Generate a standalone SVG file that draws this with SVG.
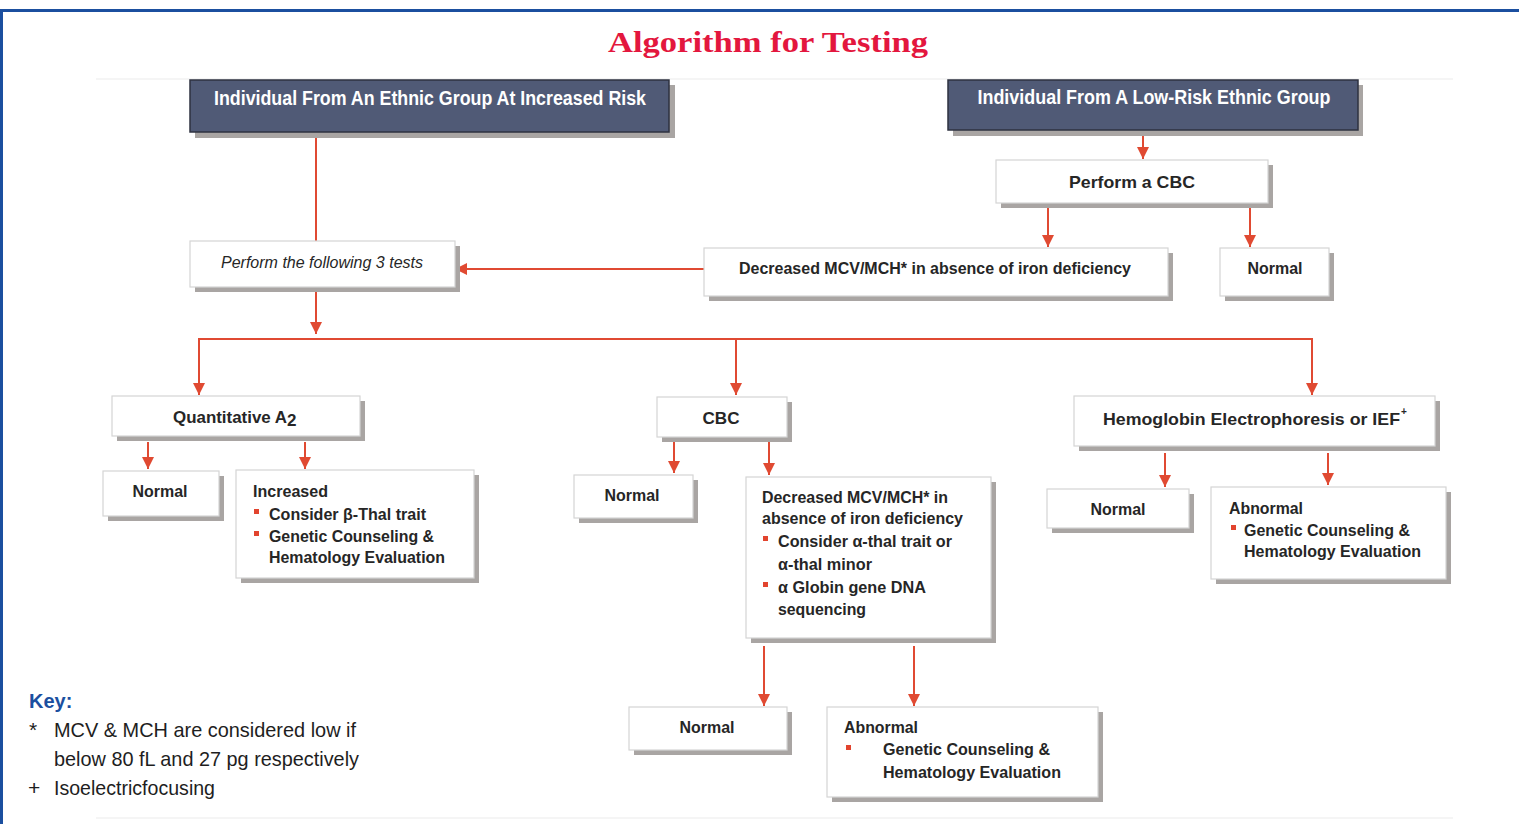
<svg xmlns="http://www.w3.org/2000/svg" width="1519" height="824" viewBox="0 0 1519 824">
<defs>
<style>
.frame{stroke:#1b4f9f;stroke-width:3;fill:none}
.rule{stroke:#ececec;stroke-width:1.2}
.title{font-family:"Liberation Serif","DejaVu Serif",serif;font-weight:bold;font-size:30px;fill:#e3173e}
.shadow{fill:#a9a5a3}
.box{fill:#ffffff;stroke:#d4d4d4;stroke-width:1.2}
.dark{fill:#505a76;stroke:#2e3240;stroke-width:1.5}
.t{font-family:"Liberation Sans","Arial",sans-serif;font-weight:bold;font-size:17px;fill:#262626}
.sup{font-family:"Liberation Sans","Arial",sans-serif;font-weight:bold;font-size:10px;fill:#262626}
.tw{font-family:"Liberation Sans","Arial",sans-serif;font-weight:bold;font-size:20px;fill:#ffffff}
.ti{font-family:"Liberation Sans","Arial",sans-serif;font-style:italic;font-size:16px;fill:#262626}
.c{text-anchor:middle}
.bul{fill:#e2442e}
.con{stroke:#e04a32;stroke-width:2;fill:none}
.key{font-family:"Liberation Sans","Arial",sans-serif;font-size:21px;fill:#1e1e1e}
.keyh{font-family:"Liberation Sans","Arial",sans-serif;font-weight:bold;font-size:20px;fill:#1b4f9f}
</style>
<marker id="ah" viewBox="0 0 12 12" refX="12" refY="6" markerWidth="12" markerHeight="12" markerUnits="userSpaceOnUse" orient="auto">
<path d="M0,0 L12,6 L0,12 z" fill="#e04a32"/>
</marker>
</defs>
<rect width="1519" height="824" fill="#ffffff"/>
<path class="frame" d="M1.5,824 V10.5 H1519"/>
<line class="rule" x1="96" y1="79" x2="1453" y2="79"/>
<line class="rule" x1="96" y1="818" x2="1453" y2="818"/>
<text class="title c" x="768" y="52" textLength="320" lengthAdjust="spacingAndGlyphs">Algorithm for Testing</text>

<g id="connectors">
<line class="con" x1="316" y1="135" x2="316" y2="241"/>
<line class="con" x1="316" y1="291" x2="316" y2="334" marker-end="url(#ah)"/>
<polyline class="con" points="199,395 199,339 1312,339 1312,395" marker-end="url(#ah)"/>
<line class="con" x1="199" y1="340" x2="199" y2="395" marker-end="url(#ah)"/>
<line class="con" x1="736" y1="339" x2="736" y2="395" marker-end="url(#ah)"/>
<line class="con" x1="1143" y1="134" x2="1143" y2="159" marker-end="url(#ah)"/>
<line class="con" x1="1048" y1="206" x2="1048" y2="247" marker-end="url(#ah)"/>
<line class="con" x1="1250" y1="206" x2="1250" y2="247" marker-end="url(#ah)"/>
<line class="con" x1="704" y1="269" x2="455" y2="269" marker-end="url(#ah)"/>
<line class="con" x1="148" y1="442" x2="148" y2="469" marker-end="url(#ah)"/>
<line class="con" x1="305" y1="442" x2="305" y2="469" marker-end="url(#ah)"/>
<line class="con" x1="674" y1="442" x2="674" y2="473" marker-end="url(#ah)"/>
<line class="con" x1="769" y1="442" x2="769" y2="475" marker-end="url(#ah)"/>
<line class="con" x1="764" y1="646" x2="764" y2="706" marker-end="url(#ah)"/>
<line class="con" x1="914" y1="646" x2="914" y2="706" marker-end="url(#ah)"/>
<line class="con" x1="1165" y1="453" x2="1165" y2="487" marker-end="url(#ah)"/>
<line class="con" x1="1328" y1="453" x2="1328" y2="485" marker-end="url(#ah)"/>
</g>

<g id="n-increased-risk">
<rect class="shadow" x="195" y="85" width="480" height="53"/>
<rect class="dark" x="190" y="80" width="479" height="52"/>
<text class="tw c" x="430" y="105" textLength="432" lengthAdjust="spacingAndGlyphs">Individual From An Ethnic Group At Increased Risk</text>
</g>
<g id="n-low-risk">
<rect class="shadow" x="953" y="85" width="410" height="51"/>
<rect class="dark" x="948" y="80" width="410" height="50"/>
<text class="tw c" x="1154" y="104" textLength="353" lengthAdjust="spacingAndGlyphs">Individual From A Low-Risk Ethnic Group</text>
</g>
<g id="n-perform-cbc">
<rect class="shadow" x="1001" y="165" width="272" height="43"/>
<rect class="box" x="996" y="160" width="272" height="43"/>
<text class="t c" x="1132" y="188" font-size="19" textLength="126" lengthAdjust="spacingAndGlyphs">Perform a CBC</text>
</g>
<g id="n-perform-3">
<rect class="shadow" x="195" y="246" width="265" height="46"/>
<rect class="box" x="190" y="241" width="265" height="46"/>
<text class="ti c" x="322" y="268" textLength="202" lengthAdjust="spacingAndGlyphs">Perform the following 3 tests</text>
</g>
<g id="n-decreased-top">
<rect class="shadow" x="709" y="253" width="464" height="48"/>
<rect class="box" x="704" y="248" width="464" height="48"/>
<text class="t" x="739" y="274" textLength="392" lengthAdjust="spacingAndGlyphs">Decreased MCV/MCH* in absence of iron deficiency</text>
</g>
<g id="n-normal-top">
<rect class="shadow" x="1225" y="253" width="109" height="48"/>
<rect class="box" x="1220" y="248" width="109" height="48"/>
<text class="t c" x="1275" y="274" textLength="55" lengthAdjust="spacingAndGlyphs">Normal</text>
</g>
<g id="n-quant">
<rect class="shadow" x="117" y="401" width="248" height="40"/>
<rect class="box" x="112" y="396" width="248" height="40"/>
<text class="t" x="173" y="423" font-size="19" textLength="114" lengthAdjust="spacingAndGlyphs">Quantitative A</text>
<text class="t" x="287" y="426" font-size="10">2</text>
</g>
<g id="n-cbc">
<rect class="shadow" x="662" y="402" width="130" height="40"/>
<rect class="box" x="657" y="397" width="130" height="40"/>
<text class="t c" x="721" y="424" font-size="19" textLength="37" lengthAdjust="spacingAndGlyphs">CBC</text>
</g>
<g id="n-hemo">
<rect class="shadow" x="1079" y="401" width="361" height="50"/>
<rect class="box" x="1074" y="396" width="361" height="50"/>
<text class="t" x="1103" y="425" font-size="19" textLength="297" lengthAdjust="spacingAndGlyphs">Hemoglobin Electrophoresis or IEF</text>
<text class="sup" x="1401" y="415">+</text>
</g>
<g id="n-normal-a2">
<rect class="shadow" x="108" y="476" width="116" height="45"/>
<rect class="box" x="103" y="471" width="116" height="45"/>
<text class="t c" x="160" y="497" textLength="55" lengthAdjust="spacingAndGlyphs">Normal</text>
</g>
<g id="n-increased">
<rect class="shadow" x="241" y="475" width="238" height="108"/>
<rect class="box" x="236" y="470" width="238" height="108"/>
<text class="t" x="253" y="497" textLength="75" lengthAdjust="spacingAndGlyphs">Increased</text>
<rect class="bul" x="254" y="509" width="5" height="5"/>
<text class="t" x="269" y="520" textLength="157" lengthAdjust="spacingAndGlyphs">Consider β-Thal trait</text>
<rect class="bul" x="254" y="531" width="5" height="5"/>
<text class="t" x="269" y="542" textLength="165" lengthAdjust="spacingAndGlyphs">Genetic Counseling &amp;</text>
<text class="t" x="269" y="563" textLength="176" lengthAdjust="spacingAndGlyphs">Hematology Evaluation</text>
</g>
<g id="n-normal-cbc">
<rect class="shadow" x="579" y="480" width="119" height="43"/>
<rect class="box" x="574" y="475" width="119" height="43"/>
<text class="t c" x="632" y="501" textLength="55" lengthAdjust="spacingAndGlyphs">Normal</text>
</g>
<g id="n-decreased-cbc">
<rect class="shadow" x="751" y="482" width="245" height="161"/>
<rect class="box" x="746" y="477" width="245" height="161"/>
<text class="t" x="762" y="503" textLength="186" lengthAdjust="spacingAndGlyphs">Decreased MCV/MCH* in</text>
<text class="t" x="762" y="524" textLength="201" lengthAdjust="spacingAndGlyphs">absence of iron deficiency</text>
<rect class="bul" x="763" y="536" width="5" height="5"/>
<text class="t" x="778" y="547" textLength="174" lengthAdjust="spacingAndGlyphs">Consider α-thal trait or</text>
<text class="t" x="778" y="570" textLength="94" lengthAdjust="spacingAndGlyphs">α-thal minor</text>
<rect class="bul" x="763" y="582" width="5" height="5"/>
<text class="t" x="778" y="593" textLength="148" lengthAdjust="spacingAndGlyphs">α Globin gene DNA</text>
<text class="t" x="778" y="615" textLength="88" lengthAdjust="spacingAndGlyphs">sequencing</text>
</g>
<g id="n-normal-bottom">
<rect class="shadow" x="634" y="712" width="158" height="43"/>
<rect class="box" x="629" y="707" width="158" height="43"/>
<text class="t c" x="707" y="733" textLength="55" lengthAdjust="spacingAndGlyphs">Normal</text>
</g>
<g id="n-abnormal-bottom">
<rect class="shadow" x="832" y="712" width="271" height="90"/>
<rect class="box" x="827" y="707" width="271" height="90"/>
<text class="t" x="844" y="733" textLength="74" lengthAdjust="spacingAndGlyphs">Abnormal</text>
<rect class="bul" x="846" y="745" width="5" height="5"/>
<text class="t" x="883" y="755" textLength="167" lengthAdjust="spacingAndGlyphs">Genetic Counseling &amp;</text>
<text class="t" x="883" y="778" textLength="178" lengthAdjust="spacingAndGlyphs">Hematology Evaluation</text>
</g>
<g id="n-normal-hemo">
<rect class="shadow" x="1052" y="494" width="142" height="39"/>
<rect class="box" x="1047" y="489" width="142" height="39"/>
<text class="t c" x="1118" y="515" textLength="55" lengthAdjust="spacingAndGlyphs">Normal</text>
</g>
<g id="n-abnormal-hemo">
<rect class="shadow" x="1216" y="492" width="235" height="92"/>
<rect class="box" x="1211" y="487" width="235" height="92"/>
<text class="t" x="1229" y="514" textLength="74" lengthAdjust="spacingAndGlyphs">Abnormal</text>
<rect class="bul" x="1231" y="525" width="5" height="5"/>
<text class="t" x="1244" y="536" textLength="166" lengthAdjust="spacingAndGlyphs">Genetic Counseling &amp;</text>
<text class="t" x="1244" y="557" textLength="177" lengthAdjust="spacingAndGlyphs">Hematology Evaluation</text>
</g>

<g id="key">
<text class="keyh" x="29" y="708">Key:</text>
<text class="key" x="29" y="737">*</text>
<text class="key" x="54" y="737" textLength="302" lengthAdjust="spacingAndGlyphs">MCV &amp; MCH are considered low if</text>
<text class="key" x="54" y="766" textLength="305" lengthAdjust="spacingAndGlyphs">below 80 fL and 27 pg respectively</text>
<text class="key" x="28" y="795">+</text>
<text class="key" x="54" y="795" textLength="161" lengthAdjust="spacingAndGlyphs">Isoelectricfocusing</text>
</g>
</svg>
